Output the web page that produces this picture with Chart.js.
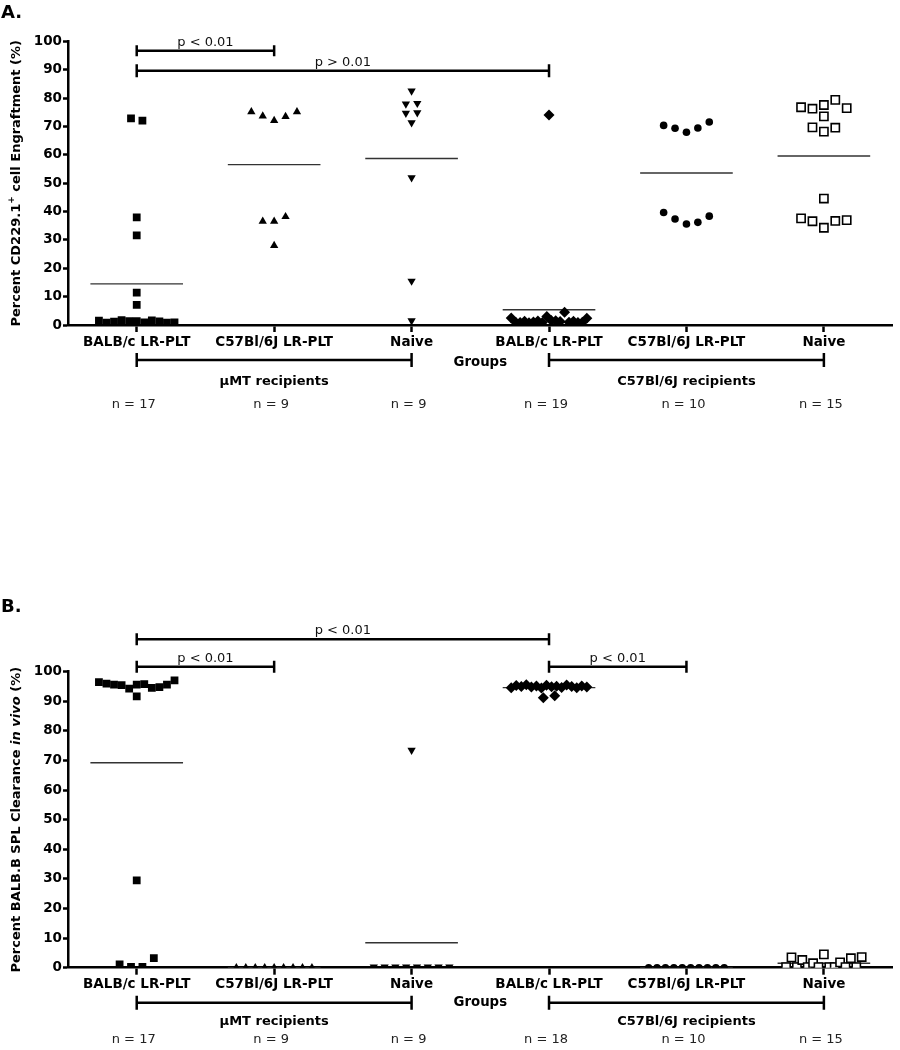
<!DOCTYPE html>
<html>
<head>
<meta charset="utf-8">
<script src="https://cdn.jsdelivr.net/npm/chart.js@4.4.1/dist/chart.umd.min.js"></script>
<style>
  html, body { margin: 0; padding: 0; background: #fff; }
  #wrap { position: relative; width: 900px; height: 1050px; }
  canvas { position: absolute; left: 0; }
  #chartA { top: 0; }
  #chartB { top: 470px; }
</style>
</head>
<body>
<div id="wrap">
  <canvas id="chartA" width="900" height="470"></canvas>
  <canvas id="chartB" width="900" height="580"></canvas>
</div>
<script>
// --- data (left-to-right within each column) ---
const groupLabels = ['BALB/c LR-PLT', 'C57Bl/6J LR-PLT', 'Naive', 'BALB/c LR-PLT', 'C57Bl/6J LR-PLT', 'Naive'];
const yTicks = [0, 10, 20, 30, 40, 50, 60, 70, 80, 90, 100];

// A. Percent CD229.1+ cell engraftment
const engraftBalbMuMT  = [72.9, 72.1, 38.0, 31.6, 11.4, 7.1, 1.5, 0.8, 1.2, 1.7, 1.4, 1.4, 0.9, 1.6, 1.3, 0.8, 0.9];
const engraftC57MuMT   = [75.2, 73.7, 72.1, 73.5, 75.2, 36.6, 36.6, 38.2, 28.0];
const engraftNaiveMuMT = [82.6, 78.0, 78.2, 74.7, 74.9, 71.4, 52.0, 15.5, 1.5];
const engraftBalbC57   = [74.1, 2.5, 1.0, 0.9, 1.3, 0.8, 1.1, 1.4, 0.9, 3.0, 1.6, 1.5, 1.2, 4.5, 1.0, 1.3, 0.9, 1.0, 2.4];
const engraftC57C57    = [70.4, 69.4, 68.0, 69.5, 71.6, 39.7, 37.4, 35.6, 36.2, 38.4];
const engraftNaiveC57  = [76.8, 76.3, 77.6, 79.4, 76.5, 73.6, 69.7, 68.2, 69.6, 44.6, 37.6, 36.6, 34.3, 36.7, 37.0];

// B. Percent BALB.B SPL clearance in vivo
const clearBalbMuMT  = [96.5, 96.0, 95.6, 95.5, 94.3, 95.6, 95.8, 94.5, 94.8, 95.6, 97.1, 91.7, 29.5, 1.1, 0.3, 0.3, 3.2];
const clearC57MuMT   = [0, 0, 0, 0, 0, 0, 0, 0, 0];
const clearNaiveMuMT = [73.5, 0.3, 0.3, 0.3, 0.3, 0.3, 0.3, 0.3, 0.3];
const clearBalbC57   = [94.6, 95.3, 95.0, 95.6, 94.8, 95.2, 94.5, 95.4, 94.9, 95.1, 94.7, 95.5, 95.0, 94.6, 95.2, 94.8, 91.2, 91.9];
const clearC57C57    = [0, 0, 0, 0, 0, 0, 0, 0, 0, 0];
const clearNaiveC57  = [0.2, 3.5, 0.2, 2.6, 0.2, 1.5, 0.2, 4.5, 0.2, 0.2, 1.8, 0.2, 3.2, 0.2, 3.6];

// --- look ---
const FONT = "'DejaVu Sans', sans-serif";
const ROW_GAP = 2.4;     // values closer than this share a row in the column scatter
const STEP = 0.083;      // horizontal spacing between points in a row (category units)
const SPAN = 0.55;       // widest a row may get before it is squeezed
const MEAN_HALF = 0.337; // half-length of the mean bar
const STYLES = [
  { pointStyle: 'rect', radius: 5.5, fill: '#000', border: 0 },
  { pointStyle: 'triangle', radius: 4.8, fill: '#000', border: 0 },
  { pointStyle: 'triangle', rotation: 180, radius: 4.8, fill: '#000', border: 0 },
  { pointStyle: 'rectRot', radius: 5.5, fill: '#000', border: 0 },
  { pointStyle: 'circle', radius: 3.8, fill: '#000', border: 0 },
  { pointStyle: 'rect', radius: 5.8, fill: '#fff', border: 1.6 }
];

// spread points of similar value sideways, like a column scatter
function swarm(vals) {
  const idx = vals.map((v, i) => i).sort((a, b) => vals[a] - vals[b]);
  const rows = []; let cur = [];
  idx.forEach((i, k) => {
    if (k > 0 && vals[i] - vals[idx[k - 1]] > ROW_GAP) { rows.push(cur); cur = []; }
    cur.push(i);
  });
  rows.push(cur);
  const off = vals.map(() => 0);
  rows.forEach(r => {
    r.sort((a, b) => a - b);
    const n = r.length;
    const step = n > 1 ? Math.min(STEP, SPAN / (n - 1)) : 0;
    r.forEach((i, k) => { off[i] = (k - (n - 1) / 2) * step; });
  });
  return off;
}

function buildDatasets(groups) {
  const ds = [];
  groups.forEach((vals, g) => {
    const st = STYLES[g], off = swarm(vals);
    ds.push({
      type: 'scatter',
      data: vals.map((v, i) => ({ x: g + 1 + off[i], y: v })),
      pointStyle: st.pointStyle, pointRotation: st.rotation || 0,
      pointRadius: st.radius, pointBackgroundColor: st.fill,
      pointBorderColor: '#000', pointBorderWidth: st.border,
      clip: 0
    });
  });
  groups.forEach((vals, g) => {
    const m = vals.reduce((a, b) => a + b, 0) / vals.length;
    ds.push({
      type: 'line',
      data: [{ x: g + 1 - MEAN_HALF, y: m }, { x: g + 1 + MEAN_HALF, y: m }],
      borderColor: '#333', borderWidth: 1.4, pointRadius: 0, fill: false, clip: 0
    });
  });
  return ds;
}

function bracket(ctx, x1, x2, y, cap) {
  ctx.lineWidth = 2.5;
  ctx.beginPath();
  ctx.moveTo(x1, y); ctx.lineTo(x2, y);
  ctx.moveTo(x1, y - cap); ctx.lineTo(x1, y + cap);
  ctx.moveTo(x2, y - cap); ctx.lineTo(x2, y + cap);
  ctx.stroke();
}

function drawRotated(ctx, segs, x, y) {
  ctx.save();
  ctx.translate(x, y); ctx.rotate(-Math.PI / 2);
  let total = 0;
  segs.forEach(s => { ctx.font = s.font; s.w = ctx.measureText(s.text).width; total += s.w; });
  let cx = -total / 2;
  ctx.textAlign = 'left'; ctx.textBaseline = 'middle';
  segs.forEach(s => { ctx.font = s.font; ctx.fillText(s.text, cx, s.dy || 0); cx += s.w; });
  ctx.restore();
}

// panel letter, axis title, brackets and the labels under the axis
const annotPlugin = {
  id: 'annot',
  afterDraw(chart, args, o) {
    const ctx = chart.ctx, xs = chart.scales.x, area = chart.chartArea;
    const px = v => xs.getPixelForValue(v);
    ctx.save();
    ctx.fillStyle = '#000'; ctx.strokeStyle = '#000';

    ctx.font = 'bold 18px ' + FONT; ctx.textAlign = 'left'; ctx.textBaseline = 'alphabetic';
    ctx.fillText(o.letter, 1, o.letterY);

    drawRotated(ctx, o.yTitle, 17, (area.top + area.bottom) / 2);

    o.sig.forEach(s => {
      bracket(ctx, px(s.from), px(s.to), s.y, s.cap);
      ctx.font = '13px ' + FONT; ctx.textAlign = 'center'; ctx.textBaseline = 'alphabetic';
      ctx.fillStyle = '#111';
      ctx.fillText(s.text, (px(s.from) + px(s.to)) / 2, s.y - 5);
    });

    const b = area.bottom;
    ctx.fillStyle = '#000';
    ctx.textAlign = 'center'; ctx.textBaseline = 'middle';
    o.recipients.forEach(r => {
      bracket(ctx, px(r.from), px(r.to), b + o.off.bracket, 7);
      ctx.font = 'bold 13px ' + FONT;
      ctx.fillText(r.text, px(r.mid), b + o.off.recip);
    });
    ctx.font = 'bold 13.3px ' + FONT;
    ctx.fillText('Groups', (area.left + area.right) / 2, b + o.off.groups);

    ctx.font = '13px ' + FONT; ctx.fillStyle = '#222';
    o.groups.forEach((vals, i) => ctx.fillText('n = ' + vals.length, px(i + 1) - 3, b + o.off.n));
    ctx.restore();
  }
};

function makeChart(id, groups, annot, lay) {
  const tickFont = { family: FONT, weight: 'bold', size: 13.5 };
  annot.groups = groups;
  return new Chart(document.getElementById(id), {
    type: 'scatter',
    data: { datasets: buildDatasets(groups) },
    options: {
      responsive: false, animation: false, events: [],
      layout: { padding: { top: lay.top, right: 4, left: 0, bottom: 0 } },
      plugins: { legend: { display: false }, tooltip: { enabled: false }, annot },
      scales: {
        x: {
          type: 'linear', min: 0.5, max: 6.5, z: 1,
          afterBuildTicks: s => { s.ticks = groupLabels.map((_, i) => ({ value: i + 1 })); },
          afterFit: s => { s.height = lay.xHeight; },
          ticks: { callback: v => groupLabels[Math.round(v) - 1] || '', font: tickFont, color: '#000',
                   padding: 2, maxRotation: 0, autoSkip: false },
          grid: { display: true, drawOnChartArea: false, drawTicks: true, tickLength: 7,
                  tickWidth: 2.5, tickColor: '#000', color: '#000' },
          border: { display: true, color: '#000', width: 2.5 }
        },
        y: {
          min: 0, max: 100, z: 1,
          afterBuildTicks: s => { s.ticks = yTicks.map(v => ({ value: v })); },
          afterFit: s => { s.width = 68; },
          ticks: { font: tickFont, color: '#000', padding: 1 },
          grid: { display: true, drawOnChartArea: false, drawTicks: true, tickLength: 5,
                  tickWidth: 2.5, tickColor: '#000', color: '#000' },
          border: { display: true, color: '#000', width: 2.5 }
        }
      }
    },
    plugins: [annotPlugin]
  });
}

const recipientsBars = [
  { from: 1, to: 3, mid: 2, text: '\u00b5MT recipients' },
  { from: 4, to: 6, mid: 5, text: 'C57Bl/6J recipients' }
];

makeChart('chartA',
  [engraftBalbMuMT, engraftC57MuMT, engraftNaiveMuMT, engraftBalbC57, engraftC57C57, engraftNaiveC57],
  {
    letter: 'A.', letterY: 18,
    yTitle: [
      { text: 'Percent CD229.1', font: 'bold 13px ' + FONT },
      { text: '+', font: 'bold 9px ' + FONT, dy: -5 },
      { text: ' cell Engraftment (%)', font: 'bold 13px ' + FONT }
    ],
    sig: [
      { from: 1, to: 2, y: 50.7, cap: 5.5, text: 'p < 0.01' },
      { from: 1, to: 4, y: 70.7, cap: 6.5, text: 'p > 0.01' }
    ],
    recipients: recipientsBars,
    off: { bracket: 35, groups: 38, recip: 57, n: 80 }
  },
  { top: 41.5, xHeight: 470 - 325 });

makeChart('chartB',
  [clearBalbMuMT, clearC57MuMT, clearNaiveMuMT, clearBalbC57, clearC57C57, clearNaiveC57],
  {
    letter: 'B.', letterY: 142,
    yTitle: [
      { text: 'Percent BALB.B SPL Clearance ', font: 'bold 13px ' + FONT },
      { text: 'in vivo', font: 'italic bold 13px ' + FONT },
      { text: ' (%)', font: 'bold 13px ' + FONT }
    ],
    sig: [
      { from: 1, to: 4, y: 169.3, cap: 6, text: 'p < 0.01' },
      { from: 1, to: 2, y: 196.7, cap: 6, text: 'p < 0.01' },
      { from: 4, to: 5, y: 196.7, cap: 6, text: 'p < 0.01' }
    ],
    recipients: recipientsBars,
    off: { bracket: 35, groups: 35, recip: 54, n: 72 }
  },
  { top: 201.7, xHeight: 580 - 497.7 });
</script>
</body>
</html>
